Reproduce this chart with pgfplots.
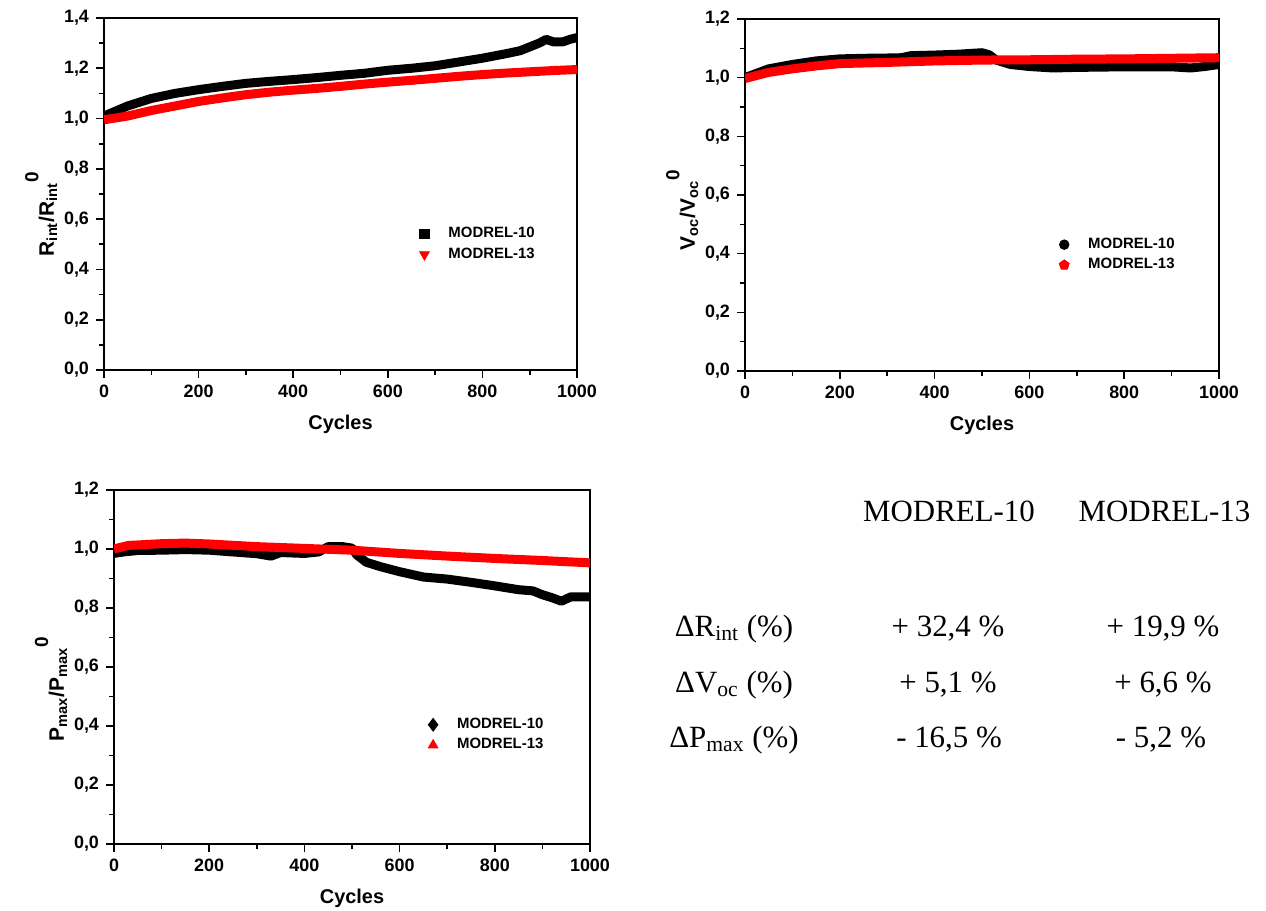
\documentclass[border=0pt]{standalone}
\usepackage{amsmath}
\usepackage{fontspec}
\setmainfont{Liberation Sans}
\newfontfamily\timesfont{Liberation Serif}
\usepackage{pgfplots}
\pgfplotsset{compat=1.18}

\newcommand{\zsup}{\raisebox{0.75em}{\fontsize{9.5}{10}\selectfont 0}}
\pgfplotsset{
 myaxis/.style={
  scale only axis,
  xmin=0, xmax=1000, ymin=0,
  xtick={0,200,...,1000}, minor x tick num=1,
  minor y tick num=1,
  tick align=outside, xtick pos=bottom, ytick pos=left,
  major tick length=4bp, minor tick length=2.5bp,
  axis line style={line width=0.8bp},
  every tick/.style={line width=0.8bp, black},
  /pgf/number format/assume math mode=true,
  /pgf/number format/1000 sep={},
  ticklabel style={font=\fontsize{9}{10}\selectfont\bfseries},
  yticklabel style={/pgf/number format/.cd, use comma, fixed, fixed zerofill, precision=1, 1000 sep={}},
  xlabel={Cycles},
  label style={font=\fontsize{10}{12}\selectfont\bfseries},
  xlabel style={yshift=-2bp},
  ylabel style={font=\fontsize{10.5}{12}\selectfont\bfseries, yshift=-3.5bp},
  legend style={draw=none, fill=none, inner sep=0pt, font=\fontsize{7.5}{9}\selectfont\bfseries, row sep=-0.5bp},
  legend cell align=left,
  legend image code/.code={\path[draw=none, fill=none] (0bp,0bp) -- (13bp,0bp); \draw[#1] plot coordinates {(3bp,0bp)};},
 },
 band/.style={line width=4.5bp, line join=round, no marks},
}

\begin{document}
\begin{tikzpicture}
\useasboundingbox (0,0) rectangle (633bp,455.5bp);

% Plot 1: R_int
\begin{axis}[myaxis, at={(52bp,270.5bp)}, anchor=south west,
  width=236.5bp, height=176bp, ymax=1.4, ytick={0,0.2,...,1.4},
  ylabel={R\textsubscript{int}/R\textsubscript{int}\zsup},
  ylabel style={xshift=-10bp},
  legend style={at={(0.664,0.357)}, anchor=west}]
\addplot[band, black, forget plot] coordinates {(0,1.01)(25,1.03)(50,1.05)(75,1.065)(100,1.08)(150,1.10)(200,1.115)(250,1.128)(300,1.14)(350,1.148)(400,1.155)(450,1.163)(500,1.172)(550,1.18)(600,1.192)(650,1.20)(700,1.21)(750,1.225)(800,1.24)(850,1.258)(880,1.27)(900,1.285)(920,1.30)(935,1.315)(950,1.305)(970,1.305)(985,1.315)(1000,1.322)};
\addplot[band, red, forget plot] coordinates {(0,0.995)(50,1.01)(100,1.032)(150,1.05)(200,1.068)(250,1.082)(300,1.095)(350,1.105)(400,1.113)(450,1.12)(500,1.128)(550,1.137)(600,1.145)(650,1.152)(700,1.16)(750,1.168)(800,1.175)(850,1.181)(900,1.186)(950,1.191)(1000,1.195)};
\addlegendimage{only marks, mark=square*, black, mark size=2.3bp, line width=0.4pt}
\addlegendentry{MODREL-10}
\addlegendimage{only marks, mark=triangle*, mark options={rotate=180}, red, draw=red, fill=red, mark size=2.8bp, line width=0.4pt}
\addlegendentry{MODREL-13}
\end{axis}

% Plot 2: V_oc
\begin{axis}[myaxis, at={(372.5bp,270bp)}, anchor=south west,
  width=237bp, height=176bp, ymax=1.2, ytick={0,0.2,...,1.2},
  ylabel={V\textsubscript{oc}/V\textsubscript{oc}\zsup},
  ylabel style={xshift=-7.5bp},
  legend style={at={(0.660,0.330)}, anchor=west}]
\addplot[band, black, forget plot] coordinates {(0,1.0)(25,1.015)(50,1.03)(100,1.045)(150,1.057)(200,1.064)(250,1.066)(300,1.067)(330,1.068)(350,1.075)(400,1.077)(450,1.08)(500,1.085)(515,1.078)(530,1.06)(560,1.045)(600,1.038)(650,1.033)(700,1.035)(800,1.037)(900,1.037)(940,1.033)(970,1.038)(1000,1.045)};
\addplot[band, red, forget plot] coordinates {(0,0.997)(50,1.018)(100,1.03)(150,1.04)(200,1.048)(300,1.052)(400,1.057)(500,1.06)(600,1.061)(700,1.063)(800,1.064)(900,1.066)(1000,1.068)};
\addlegendimage{only marks, mark=*, black, mark size=2.4bp, line width=0.4pt}
\addlegendentry{MODREL-10}
\addlegendimage{only marks, mark=pentagon*, red, draw=red, fill=red, mark size=2.6bp, line width=0.4pt}
\addlegendentry{MODREL-13}
\end{axis}

% Plot 3: P_max
\begin{axis}[myaxis, at={(57bp,33.5bp)}, anchor=south west,
  width=238bp, height=177bp, ymax=1.2, ytick={0,0.2,...,1.2},
  ylabel={P\textsubscript{max}/P\textsubscript{max}\zsup},
  ylabel style={xshift=-11bp},
  legend style={at={(0.657,0.308)}, anchor=west}]
\addplot[band, black, forget plot] coordinates {(0,0.985)(20,0.99)(50,0.995)(100,0.996)(150,0.998)(200,0.996)(250,0.99)(300,0.984)(330,0.976)(350,0.988)(400,0.985)(430,0.99)(450,1.008)(480,1.008)(500,1.003)(510,0.98)(530,0.955)(560,0.94)(600,0.923)(650,0.905)(700,0.898)(750,0.887)(800,0.875)(850,0.862)(880,0.858)(900,0.845)(920,0.835)(940,0.823)(960,0.838)(1000,0.838)};
\addplot[band, red, forget plot] coordinates {(0,1.0)(30,1.012)(100,1.018)(150,1.02)(200,1.017)(300,1.008)(400,1.002)(500,0.996)(600,0.985)(700,0.976)(800,0.968)(900,0.961)(1000,0.953)};
\addlegendimage{only marks, mark=diamond*, black, mark size=3.2bp, line width=0.4pt}
\addlegendentry{MODREL-10}
\addlegendimage{only marks, mark=triangle*, red, draw=red, fill=red, mark size=2.8bp, line width=0.4pt}
\addlegendentry{MODREL-13}
\end{axis}

% Summary table
\begin{scope}[every node/.style={font=\timesfont\fontsize{15.5}{18}\selectfont, inner sep=0pt}]
\node at (474.5bp,200bp) {MODREL-10};
\node at (582.25bp,200bp) {MODREL-13};
\node at (367bp,141bp) {ΔR\textsubscript{int} (\%)};
\node at (474bp,141bp) {+ 32,4 \%};
\node at (581.5bp,141bp) {+ 19,9 \%};
\node at (367bp,113bp) {ΔV\textsubscript{oc} (\%)};
\node at (474bp,113bp) {+ 5,1 \%};
\node at (581.5bp,113bp) {+ 6,6 \%};
\node at (367bp,85.5bp) {ΔP\textsubscript{max} (\%)};
\node at (474.5bp,85.5bp) {- 16,5 \%};
\node at (580.5bp,85.5bp) {- 5,2 \%};
\end{scope}
\end{tikzpicture}
\end{document}
